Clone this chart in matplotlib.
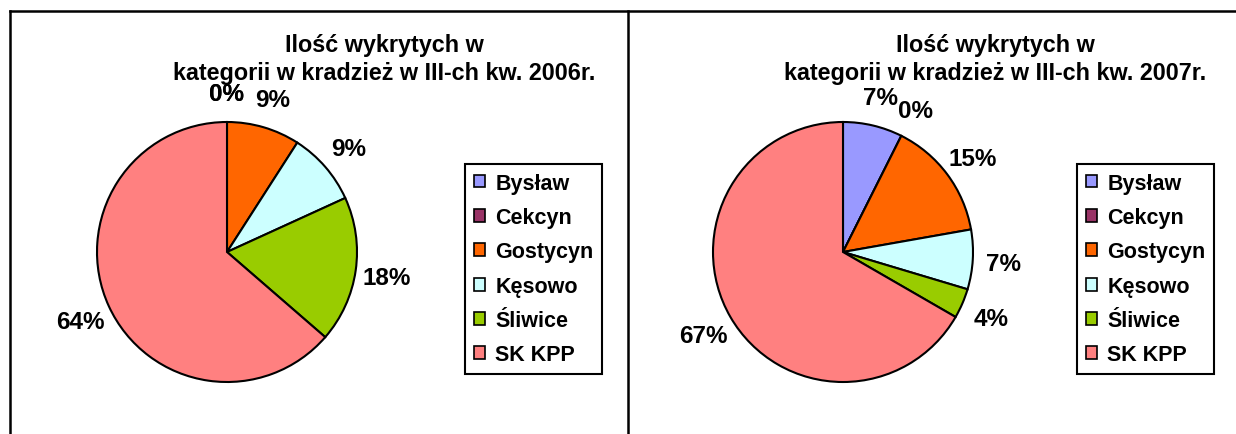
import numpy as np
import matplotlib
matplotlib.use("Agg")
import matplotlib.pyplot as plt
from matplotlib.lines import Line2D
from matplotlib.patches import Patch

plt.rcParams['font.family'] = ['Liberation Sans', 'DejaVu Sans']
plt.rcParams['font.weight'] = 'bold'

# data (counts that give the printed percentages)
categories = ['Bysław', 'Cekcyn', 'Gostycyn', 'Kęsowo', 'Śliwice', 'SK KPP']
colors = ['#9999FF', '#993366', '#FF6600', '#CCFFFF', '#99CC00', '#FF8080']
counts_2006 = [0, 0, 1, 1, 2, 7]
counts_2007 = [2, 0, 4, 2, 1, 18]
title_2006 = ['Ilość wykrytych w', 'kategorii w kradzież w III-ch kw. 2006r.']
title_2007 = ['Ilość wykrytych w', 'kategorii w kradzież w III-ch kw. 2007r.']

W, H = 1236, 435
R = 130  # pie radius in px

fig = plt.figure(figsize=(W / 100, H / 100), dpi=100)
fig.patch.set_facecolor('white')


def px_x(x):
    return x / W


def px_y(y):
    return 1 - y / H


def draw_panel(counts, title, cx, cy, title_x, leg_x, leg_y):
    half = 1.05 * R
    ax = fig.add_axes([px_x(cx - half), px_y(cy + half), 2 * half / W, 2 * half / H])
    wedges, _ = ax.pie(counts, colors=colors, startangle=90, counterclock=False,
                       radius=1, wedgeprops=dict(edgecolor='black', linewidth=1.5))
    ax.set_xlim(-1.05, 1.05)
    ax.set_ylim(-1.05, 1.05)
    ax.set_aspect('equal')
    ax.axis('off')
    total = sum(counts)
    for w, c in zip(wedges, counts):
        th = np.deg2rad((w.theta1 + w.theta2) / 2)
        ax.text(1.24 * np.cos(th), 1.24 * np.sin(th), '%.0f%%' % (100 * c / total),
                ha='center', va='center_baseline', fontsize=17.5, fontweight='bold')

    fig.text(px_x(title_x), px_y(52), title[0], ha='center', va='baseline',
             fontsize=16.8, fontweight='bold')
    fig.text(px_x(title_x), px_y(80), title[1], ha='center', va='baseline',
             fontsize=16.8, fontweight='bold')

    handles = [Patch(facecolor=c, edgecolor='black', linewidth=1.2) for c in colors]
    leg = fig.legend(handles, categories, loc='upper left',
                     bbox_to_anchor=(px_x(leg_x), px_y(leg_y)), borderaxespad=0,
                     fancybox=False, framealpha=1, edgecolor='black',
                     prop={'size': 15.5, 'weight': 'bold'},
                     handlelength=0.55, handleheight=0.55, handletextpad=0.45,
                     labelspacing=0.62, borderpad=0.4)
    leg.get_frame().set_linewidth(1.5)


draw_panel(counts_2006, title_2006, 227, 253, 384, 465, 165)
draw_panel(counts_2007, title_2007, 843, 253, 995, 1077, 165)

# frame lines of the two panels
for line in [
    Line2D([px_x(10), 1], [px_y(12), px_y(12)]),
    Line2D([px_x(10), px_x(10)], [px_y(12), 0]),
    Line2D([px_x(628), px_x(628)], [px_y(12), 0]),
]:
    line.set_color('black')
    line.set_linewidth(1.8)
    fig.add_artist(line)

fig.savefig('out.png', dpi=100)
